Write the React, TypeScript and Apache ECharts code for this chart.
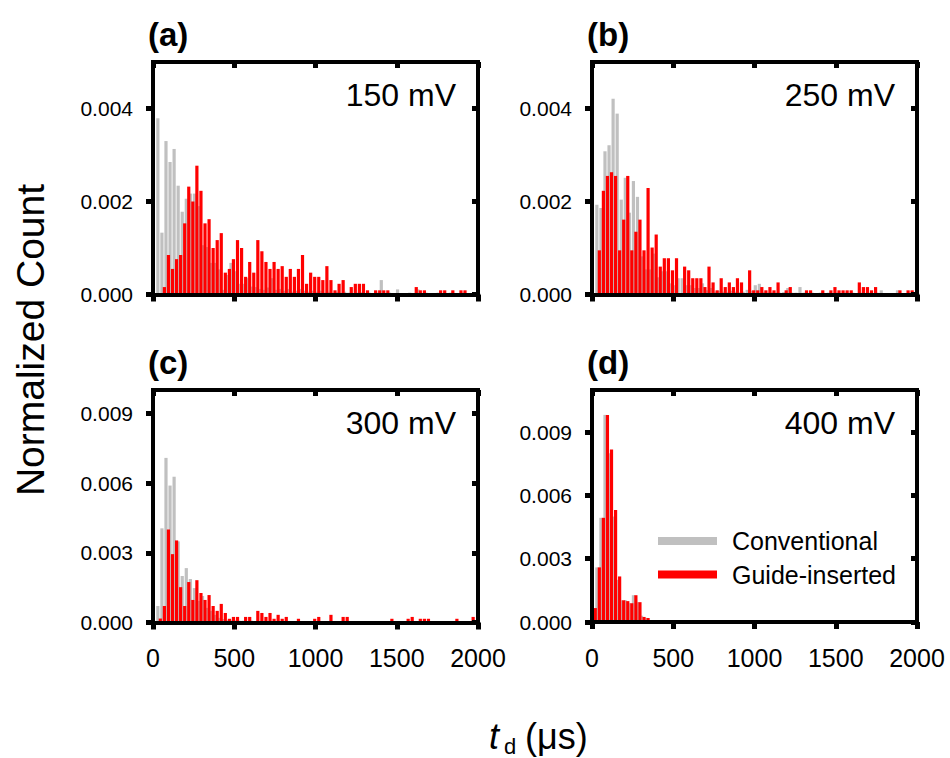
import React, { useEffect, useRef } from 'react';
import * as echarts from 'echarts';

// bin upper edges, 25 µs bins from 0 to 2000 µs
const BIN_US = 25;
const binEdges: string[] = Array.from({ length: 81 }, (_, i) => String(i * BIN_US));

// ---- 150 mV ----
const guide150 = [0,
  0, 0, 0.00016, 0.00085, 0.00055, 0.00076, 0.00085, 0.00153, 0.00232, 0.002,
  0.00277, 0.00223, 0.00153, 0.00162, 0.001, 0.00117, 0.00132, 0.00047, 0.00055, 0.00076,
  0.00117, 0.001, 0.00038, 0.0007, 0.00047, 0.00117, 0.00093, 0.0007, 0.00055, 0.0007,
  0.00055, 0.00061, 0.00038, 0.00055, 0.00038, 0.00055, 0.00085, 0.00023, 0.00047, 0.00038,
  0.00038, 0.00031, 0.00061, 0.00031, 0.00009, 0.00023, 0.00031, 0, 0.00016, 0.00023,
  0.00023, 0.00023, 0.00009, 0, 0.00009, 0.00009, 0.00009, 0.00009, 0, 0,
  0, 0, 0, 0, 0.00016, 0.00009, 0.00009, 0, 0, 0,
  0.00009, 0.00009, 0, 0.00009, 0, 0.00009, 0.00009, 0, 0, 0];
const conv150 = [0,
  0.00379, 0.00133, 0.0033, 0.00285, 0.00313, 0.00234, 0.00178, 0.00206, 0.00217, 0.00217,
  0.0019, 0.00106, 0.00102, 0.00068, 0.00068, 0.00054, 0.0001, 0.00042, 0.00068, 0.0005,
  0.00023, 0.00023, 0.00035, 0.00017, 0.00016, 0.00012, 0.0001, 0.00015, 0.00035, 0.0001,
  0.00012, 0.00008, 0.00012, 0.00006, 0.00008, 0.00012, 0.00008, 0.00006, 0.00008, 0.00006,
  0.00008, 0.00004, 0.00006, 0.00004, 0.00005, 0.00004, 0.00006, 0.00004, 0.00003, 0.00004,
  0.00005, 0.00003, 0.00004, 0.00003, 0.00004, 0.00031, 0.00003, 0.00004, 0.00003, 0.00011,
  0.00003, 0.00003, 0.00004, 0.00003, 0.00011, 0.00003, 0.00004, 0.00003, 0.00003, 0.00004,
  0.00003, 0.00003, 0.00004, 0.00003, 0.00003, 0.00004, 0.00003, 0.00003, 0.00004, 0.00003];

// ---- 250 mV ----
const guide250 = [0,
  0, 0.00095, 0.00223, 0.00255, 0.00263, 0.00255, 0.00095, 0.00161, 0.00255, 0.00095,
  0.00135, 0.00161, 0.00095, 0.00229, 0.00101, 0.00129, 0.0006, 0.00078, 0.00078, 0.00052,
  0.00078, 0, 0.0006, 0.00052, 0.00035, 0.00035, 0.00035, 0.00016, 0.0006, 0.00026,
  0.00009, 0.00035, 0.00016, 0.00026, 0.00016, 0.00035, 0.00026, 0, 0.00052, 0.00009,
  0.00009, 0.00016, 0.00009, 0.00016, 0.00009, 0.00026, 0, 0.00009, 0.00016, 0,
  0, 0, 0.00009, 0.00009, 0, 0, 0.00009, 0, 0.00009, 0.00016,
  0.00009, 0.00009, 0.00009, 0.00009, 0, 0.00026, 0.00016, 0.00016, 0.00009, 0.00016,
  0, 0, 0, 0, 0, 0.00009, 0, 0.00009, 0.00009, 0];
const conv250 = [0,
  0.00193, 0.00186, 0.00308, 0.00321, 0.00421, 0.00389, 0.00204, 0.00251, 0.00176, 0.00244,
  0.0021, 0.00082, 0.00054, 0.00054, 0.00088, 0.00037, 0.0005, 0.0005, 0.00024, 0.0002,
  0.00035, 0.00035, 0.0002, 0.0002, 0.00014, 0.00014, 0.00024, 0.00009, 0.00014, 0.00006,
  0.00008, 0.00006, 0.00005, 0.00008, 0.00006, 0.00005, 0.00006, 0.0001, 0.00008, 0.0002,
  0.00023, 0.00005, 0.00004, 0.00005, 0.00004, 0.00004, 0.00005, 0.00014, 0.00004, 0.00004,
  0.00016, 0.00004, 0.00003, 0.00004, 0.00003, 0.00004, 0.00003, 0.00004, 0.00003, 0.00004,
  0.00003, 0.00004, 0.00003, 0.00004, 0.00003, 0.00004, 0.00003, 0.00004, 0.00003, 0.00004,
  0.00009, 0.00003, 0.00003, 0.00003, 0.00009, 0.00003, 0.00003, 0.00003, 0.00003, 0.00003];

// ---- 300 mV ----
const guide300 = [0,
  0, 0.00017, 0.00071, 0.004, 0.00294, 0.00353, 0.00152, 0.00071, 0.00174, 0.00097,
  0.00182, 0.00127, 0.00097, 0.00118, 0.00071, 0.0005, 0.0008, 0.00041, 0.00016, 0.00024,
  0.00024, 0, 0.00024, 0.00024, 0, 0.0005, 0.00041, 0.00024, 0.00041, 0.00016,
  0.00033, 0.00016, 0.00024, 0, 0, 0.00016, 0, 0, 0, 0.00016,
  0.00024, 0, 0, 0.00033, 0, 0, 0.00024, 0.00024, 0, 0,
  0, 0, 0, 0, 0, 0, 0, 0, 0.00016, 0,
  0, 0, 0.00016, 0.00024, 0, 0.00016, 0.00016, 0.00016, 0, 0,
  0, 0, 0, 0, 0.00016, 0, 0, 0, 0.00024, 0];
const conv300 = [0,
  0.00071, 0.00405, 0.00708, 0.00589, 0.00627, 0.00349, 0.002, 0.00234, 0.00187, 0.00148,
  0.00093, 0.00114, 0.00063, 0.0005, 0.00033, 0.0002, 0.00015, 0.0001, 0.00012, 0.0001,
  0.00008, 0.00008, 0.00006, 0.00008, 0.00006, 0.00005, 0.00006, 0.00004, 0.00005, 0.00004,
  0.00004, 0.00005, 0.00004, 0.00004, 0.00003, 0.00004, 0.00003, 0.00004, 0.00003, 0.00003,
  0.00004, 0.00003, 0.00003, 0.00004, 0.00003, 0.00003, 0.00003, 0.00004, 0.00003, 0.00003,
  0.00003, 0.00003, 0.00003, 0.00003, 0.00003, 0.00003, 0.00003, 0.00003, 0.00003, 0.00003,
  0.00003, 0.00003, 0.00003, 0.00003, 0.00003, 0.00003, 0.00003, 0.00003, 0.00003, 0.00003,
  0.00003, 0.00003, 0.00003, 0.00003, 0.00003, 0.00003, 0.00003, 0.00003, 0.00003, 0.00003];

// ---- 400 mV ----
const guide400 = [0,
  0.00066, 0.00259, 0.00494, 0.00982, 0.00818, 0.00531, 0.00216, 0.00103, 0.00099, 0.00089,
  0.00127, 0.00094, 0.00024, 0.00019, 0, 0, 0, 0, 0, 0,
  0, 0, 0, 0, 0, 0, 0, 0, 0, 0,
  0, 0, 0, 0, 0, 0, 0, 0, 0, 0,
  0, 0, 0, 0, 0, 0, 0, 0, 0, 0,
  0, 0, 0, 0, 0, 0, 0, 0, 0, 0,
  0, 0, 0, 0, 0, 0, 0, 0, 0, 0,
  0, 0, 0, 0, 0, 0, 0, 0, 0, 0];
const conv400 = [0,
  0.00259, 0.00494, 0.00982, 0.008, 0.005, 0.002, 0.00103, 0.00103, 0.00089, 0.00127,
  0.00094, 0.0003, 0.0002, 0, 0, 0, 0, 0, 0, 0,
  0, 0, 0, 0, 0, 0, 0, 0, 0, 0,
  0, 0, 0, 0, 0, 0, 0, 0, 0, 0,
  0, 0, 0, 0, 0, 0, 0, 0, 0, 0,
  0, 0, 0, 0, 0, 0, 0, 0, 0, 0,
  0, 0, 0, 0, 0, 0, 0, 0, 0, 0,
  0, 0, 0, 0, 0, 0, 0, 0, 0, 0];

const yTicksTop = [0, 0.002, 0.004];
const yTicksBottom = [0, 0.003, 0.006, 0.009];
const panelLabels = ['(a)', '(b)', '(c)', '(d)'];
const voltageLabels = ['150 mV', '250 mV', '300 mV', '400 mV'];
const SERIES_CONV = 'Conventional';
const SERIES_GUIDE = 'Guide-inserted';

const FONT = '"Liberation Sans", Arial, Helvetica, sans-serif';
const GREY = '#c0c0c0';
const RED = '#ff0000';

const panels = [
  { left: 153, top: 62, width: 325, height: 232.5, yMax: 0.005, yStep: 0.002, ticks: yTicksTop, conv: conv150, guide: guide150, showX: false },
  { left: 592, top: 62, width: 325, height: 232.5, yMax: 0.005, yStep: 0.002, ticks: yTicksTop, conv: conv250, guide: guide250, showX: false },
  { left: 153, top: 390, width: 325, height: 232.5, yMax: 0.010, yStep: 0.003, ticks: yTicksBottom, conv: conv300, guide: guide300, showX: true },
  { left: 592, top: 390, width: 325, height: 232, yMax: 0.011, yStep: 0.003, ticks: yTicksBottom, conv: conv400, guide: guide400, showX: true },
];

function buildOption() {
  const grid: any[] = [];
  const xAxis: any[] = [];
  const yAxis: any[] = [];
  const series: any[] = [];
  const graphic: any[] = [];
  const axisLine = { show: true, onZero: false, lineStyle: { color: '#000', width: 4, cap: 'square' } };

  panels.forEach((p, idx) => {
    grid.push({ left: p.left, top: p.top, width: p.width, height: p.height });
    xAxis.push({
      type: 'category', gridIndex: idx, data: binEdges, boundaryGap: false, position: 'bottom', z: 5,
      axisLine,
      axisTick: { show: true, interval: 19, length: 7, lineStyle: { color: '#000', width: 5 } },
      axisLabel: { show: p.showX, interval: 19, fontSize: 25, margin: 23, color: '#000', fontFamily: FONT },
      splitLine: { show: false },
    });
    xAxis.push({
      type: 'category', gridIndex: idx, data: binEdges, boundaryGap: false, position: 'top', z: 5,
      axisLine,
      axisTick: { show: true, inside: true, interval: 19, length: 6, lineStyle: { color: '#000', width: 5 } },
      axisLabel: { show: false },
      splitLine: { show: false },
    });
    yAxis.push({
      type: 'value', gridIndex: idx, min: 0, max: p.yMax, interval: p.yStep, position: 'left', z: 5,
      axisLine,
      axisTick: { show: true, length: 7, customValues: p.ticks, lineStyle: { color: '#000', width: 5 } },
      axisLabel: {
        show: true, customValues: p.ticks, fontSize: 21, margin: 20, color: '#000', fontFamily: FONT,
        formatter: (v: number) => v.toFixed(3),
      },
      splitLine: { show: false },
    });
    yAxis.push({
      type: 'value', gridIndex: idx, min: 0, max: p.yMax, interval: p.yStep, position: 'right', z: 5,
      axisLine,
      axisTick: { show: true, inside: true, length: 6, customValues: p.ticks, lineStyle: { color: '#000', width: 5 } },
      axisLabel: { show: false },
      splitLine: { show: false },
    });
    series.push({
      type: 'bar', name: SERIES_GUIDE, xAxisIndex: idx * 2, yAxisIndex: idx * 2, data: p.guide,
      barWidth: 3.2, barGap: '-50%', itemStyle: { color: RED }, z: 3, silent: true,
    });
    series.push({
      type: 'bar', name: SERIES_CONV, xAxisIndex: idx * 2, yAxisIndex: idx * 2, data: p.conv,
      barWidth: 3.2, barGap: '-50%', itemStyle: { color: GREY }, z: 2, silent: true,
    });
    graphic.push({
      type: 'text', x: p.left - 5, y: p.top - 28,
      style: { text: panelLabels[idx], fontSize: 33, fontWeight: 'bold', fontFamily: FONT, fill: '#000', align: 'left', verticalAlign: 'middle' },
    });
    graphic.push({
      type: 'text', x: p.left + p.width - 22, y: p.top + 33,
      style: { text: voltageLabels[idx], fontSize: 32, fontFamily: FONT, fill: '#000', align: 'right', verticalAlign: 'middle' },
    });
  });

  graphic.push({
    type: 'text', x: 30.5, y: 340, rotation: Math.PI / 2,
    style: { text: 'Normalized Count', fontSize: 39, fontFamily: FONT, fill: '#000', align: 'center', verticalAlign: 'middle' },
  });
  graphic.push({
    type: 'text', x: 489, y: 736.5,
    style: { text: 't', fontSize: 36, fontStyle: 'italic', fontFamily: FONT, fill: '#000', align: 'left', verticalAlign: 'middle' },
  });
  graphic.push({
    type: 'text', x: 504, y: 746,
    style: { text: 'd', fontSize: 22, fontFamily: FONT, fill: '#000', align: 'left', verticalAlign: 'middle' },
  });
  graphic.push({
    type: 'text', x: 525, y: 736.5,
    style: { text: '(\u03bcs)', fontSize: 36, fontFamily: FONT, fill: '#000', align: 'left', verticalAlign: 'middle' },
  });

  return {
    animation: false,
    backgroundColor: '#fff',
    grid,
    xAxis,
    yAxis,
    series,
    graphic,
    legend: {
      orient: 'vertical', left: 658, top: 528.5, padding: 0, itemWidth: 59, itemHeight: 8, itemGap: 8.5,
      icon: 'rect', selectedMode: false, data: [SERIES_CONV, SERIES_GUIDE],
      textStyle: { fontSize: 25, lineHeight: 25, color: '#000', fontFamily: FONT, padding: [0, 0, 0, 10] },
    },
  };
}

export default function App() {
  const ref = useRef<HTMLDivElement>(null);
  useEffect(() => {
    const chart = echarts.init(ref.current!, null, { renderer: 'svg' });
    chart.setOption(buildOption() as any);
    return () => chart.dispose();
  }, []);
  return <div ref={ref} style={{ position: 'absolute', left: 0, top: 0, width: 950, height: 758 }} />;
}
